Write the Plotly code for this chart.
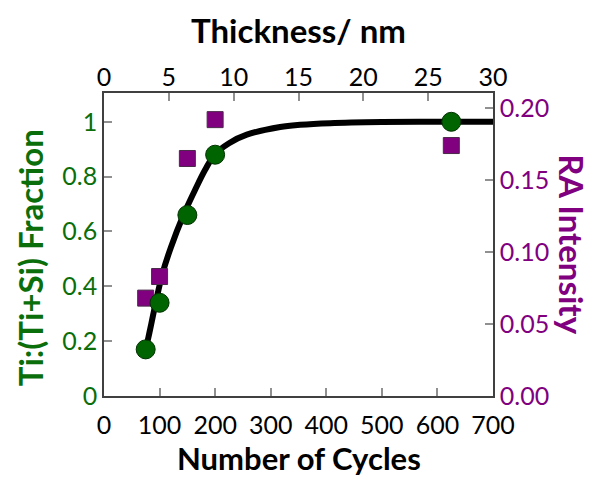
import plotly.graph_objects as go

# ---- data ----
cycles = [75, 100, 150, 200, 625]
ti_fraction = [0.17, 0.34, 0.66, 0.88, 1.00]
ra_intensity = [0.068, 0.083, 0.165, 0.192, 0.174]

fit_cycles = [75, 80, 85, 93, 105, 120, 143, 164, 182, 199, 225, 257, 317, 353, 407, 500, 600, 700]
fit_fraction = [0.17, 0.215, 0.262, 0.34, 0.445, 0.54, 0.66, 0.752, 0.825, 0.88, 0.922, 0.953, 0.981, 0.989, 0.995, 0.999, 1.0, 1.0]

x_ticks = [0, 100, 200, 300, 400, 500, 600, 700]
thick_ticks = [0, 5, 10, 15, 20, 25, 30]
left_ticks = [0, 0.2, 0.4, 0.6, 0.8, 1]
left_tick_text = ["0", "0.2", "0.4", "0.6", "0.8", "1"]
right_ticks = [0, 0.05, 0.10, 0.15, 0.20]
right_tick_text = ["0.00", "0.05", "0.10", "0.15", "0.20"]

GREEN_TXT = "#0a6e0a"
GREEN = "#006400"
PURPLE = "#800080"
FONT = "Lato"
TICK_SIZE = 25
TITLE_SIZE = 33

fig = go.Figure()

# fit curve (bottom layer)
fig.add_trace(go.Scatter(x=fit_cycles, y=fit_fraction, mode="lines",
                         line=dict(color="black", width=6, shape="spline"),
                         xaxis="x", yaxis="y", hoverinfo="skip", showlegend=False))
# invisible trace to create top axis
fig.add_trace(go.Scatter(x=[0, 30], y=[None, None], mode="markers",
                         xaxis="x2", yaxis="y", showlegend=False, hoverinfo="skip"))
# RA intensity squares
fig.add_trace(go.Scatter(x=cycles, y=ra_intensity, mode="markers",
                         marker=dict(symbol="square", size=16, color=PURPLE,
                                     line=dict(color="#4a2a4a", width=1)),
                         xaxis="x", yaxis="y2", showlegend=False))
# fraction circles (top layer)
fig.add_trace(go.Scatter(x=cycles, y=ti_fraction, mode="markers",
                         marker=dict(symbol="circle", size=19, color=GREEN,
                                     line=dict(color="#003300", width=1)),
                         xaxis="x", yaxis="y3", showlegend=False))

axis_common = dict(showline=True, linecolor="#404040", linewidth=1.5,
                   ticks="inside", ticklen=8, tickwidth=1.5, tickcolor="#909090",
                   showgrid=False, zeroline=False)

fig.update_layout(
    width=584, height=470,
    margin=dict(l=96, r=99, t=85, b=82),
    paper_bgcolor="white", plot_bgcolor="white",
    font=dict(family=FONT, size=TICK_SIZE, color="black"),
    xaxis=dict(range=[0, 700], tickvals=x_ticks, side="bottom", ticklabelstandoff=6,
               tickfont=dict(size=TICK_SIZE, color="black"), **axis_common),
    xaxis2=dict(range=[0, 30], tickvals=thick_ticks, side="top", overlaying="x",
                ticklabelstandoff=-5,
                tickfont=dict(size=TICK_SIZE, color="black"), **axis_common),
    yaxis=dict(range=[0, 1.105], tickvals=left_ticks, ticktext=left_tick_text, side="left",
               tickfont=dict(size=TICK_SIZE, color=GREEN_TXT), **axis_common),
    yaxis2=dict(range=[0, 0.2105], tickvals=right_ticks, ticktext=right_tick_text,
                side="right", overlaying="y",
                tickfont=dict(size=TICK_SIZE, color=PURPLE), **axis_common),
    yaxis3=dict(range=[0, 1.105], overlaying="y", visible=False),
    annotations=[
        dict(text="<b>Thickness/ nm</b>", xref="paper", yref="paper", x=0.5, y=1.208,
             xanchor="center", yanchor="middle", showarrow=False,
             font=dict(family=FONT, size=TITLE_SIZE, color="black")),
        dict(text="<b>Number of Cycles</b>", xref="paper", yref="paper", x=0.5, y=-0.2046,
             xanchor="center", yanchor="middle", showarrow=False,
             font=dict(family=FONT, size=31, color="black")),
        dict(text="<b>Ti:(Ti+Si) Fraction</b>", xref="paper", yref="paper", x=-0.19, y=0.455,
             xanchor="center", yanchor="middle", showarrow=False, textangle=-90,
             font=dict(family=FONT, size=TITLE_SIZE, color=GREEN_TXT)),
        dict(text="<b>RA Intensity</b>", xref="paper", yref="paper", x=1.203, y=0.498,
             xanchor="center", yanchor="middle", showarrow=False, textangle=90,
             font=dict(family=FONT, size=TITLE_SIZE, color=PURPLE)),
    ],
)

fig.write_html("out.html")
